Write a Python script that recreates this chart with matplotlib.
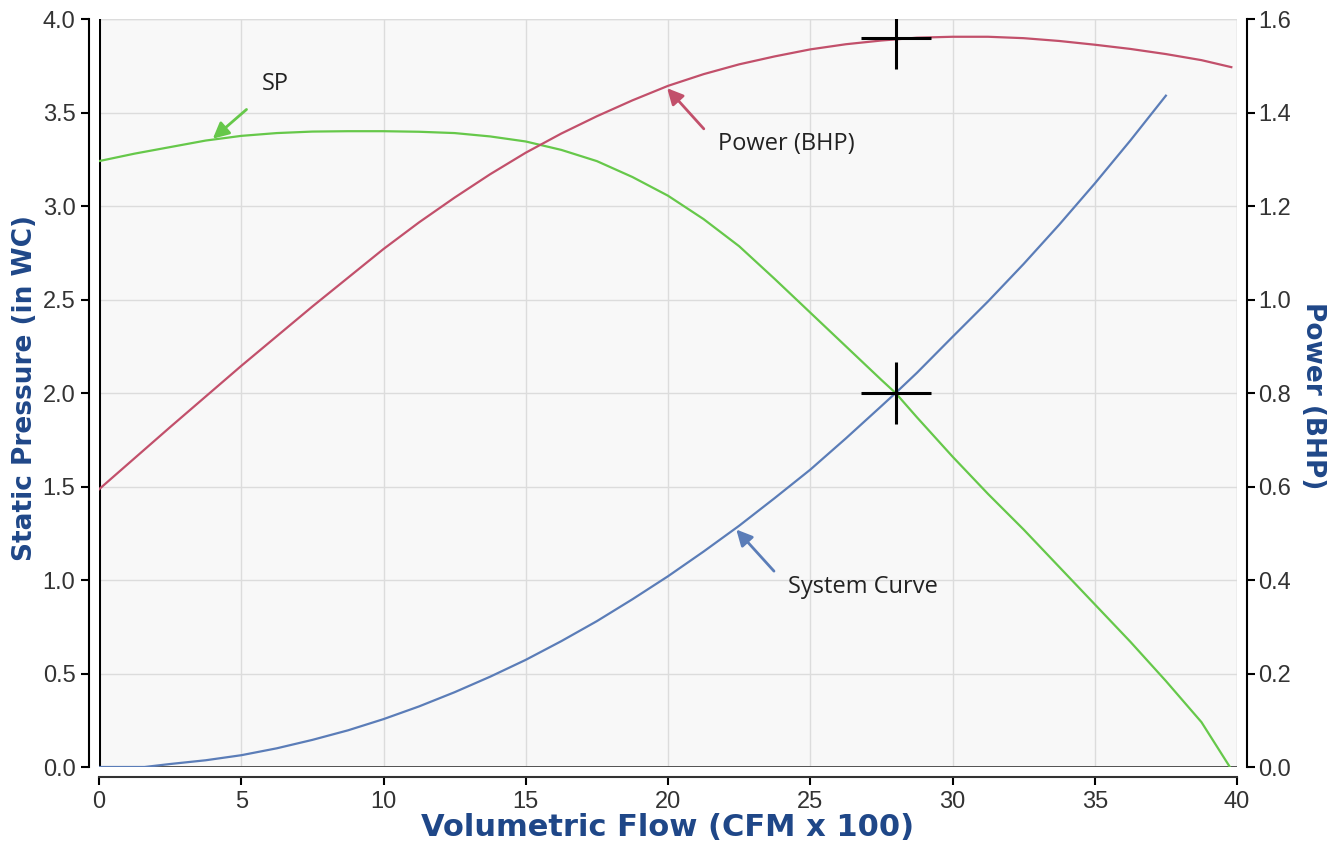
import numpy as np
import matplotlib.pyplot as plt

# ---- data ----
sp_flow = [0, 1.25, 2.5, 3.75, 5, 6.25, 7.5, 8.75, 10, 11.25, 12.5, 13.75, 15, 16.25, 17.5,
           18.75, 20, 21.25, 22.5, 23.75, 25, 26.25, 27.5, 28, 28.75, 30, 31.25, 32.5, 33.75,
           35, 36.25, 37.5, 38.75, 39.75]
sp_vals = [3.24, 3.28, 3.315, 3.35, 3.375, 3.39, 3.398, 3.40, 3.40, 3.397, 3.39, 3.372, 3.345,
           3.30, 3.24, 3.155, 3.055, 2.93, 2.785, 2.61, 2.43, 2.25, 2.07, 2.0, 1.87, 1.66, 1.46,
           1.27, 1.07, 0.87, 0.67, 0.46, 0.24, 0.0]

pw_flow = [0, 2.5, 5, 7.5, 10, 11.25, 12.5, 13.75, 15, 16.25, 17.5, 18.75, 20, 21.25, 22.5,
           23.75, 25, 26.25, 27.5, 28.75, 30, 31.25, 32.5, 33.75, 35, 36.25, 37.5, 38.75, 39.8]
pw_vals = [0.594, 0.727, 0.858, 0.985, 1.108, 1.165, 1.218, 1.268, 1.314, 1.355, 1.392, 1.426,
           1.457, 1.482, 1.503, 1.520, 1.535, 1.546, 1.554, 1.560, 1.562, 1.562, 1.559, 1.553,
           1.545, 1.536, 1.525, 1.512, 1.497]

sys_flow = [0, 1.6, 2.5, 3.75, 5, 6.25, 7.5, 8.75, 10, 11.25, 12.5, 13.75, 15, 16.25, 17.5,
            18.75, 20, 21.25, 22.5, 23.75, 25, 26.25, 27.5, 28, 28.75, 30, 31.25, 32.5, 33.75,
            35, 36.25, 37.5]
sys_vals = [0, 0, 0.016, 0.036, 0.063, 0.10, 0.145, 0.196, 0.256, 0.324, 0.40, 0.483, 0.573,
            0.673, 0.78, 0.897, 1.02, 1.152, 1.29, 1.438, 1.59, 1.757, 1.93, 2.0, 2.108, 2.30,
            2.49, 2.69, 2.90, 3.12, 3.35, 3.59]

op_flow, op_sp, op_power = 28, 2.0, 1.56

x_ticks = [0, 5, 10, 15, 20, 25, 30, 35, 40]
sp_ticks = [0.0, 0.5, 1.0, 1.5, 2.0, 2.5, 3.0, 3.5, 4.0]
pw_ticks = [0.0, 0.2, 0.4, 0.6, 0.8, 1.0, 1.2, 1.4, 1.6]

green = '#66c84a'
red = '#c2506b'
blue = '#5b7db8'
navy = '#1f4788'
tick_col = '#333333'

plt.rcParams['font.family'] = ['Liberation Sans', 'DejaVu Sans']

fig = plt.figure(figsize=(13.4, 8.47), dpi=100)
ax = fig.add_axes([99 / 1340, 1 - 767 / 847, (1237 - 99) / 1340, (767 - 19) / 847])
ax2 = ax.twinx()

ax.set_facecolor('#f8f8f8')
ax.set_xlim(0, 40)
ax.set_ylim(0, 4.0)
ax2.set_ylim(0, 1.6)

ax.set_xticks(x_ticks)
ax.set_yticks(sp_ticks)
ax.set_yticklabels([f'{v:.1f}' for v in sp_ticks])
ax2.set_yticks(pw_ticks)
ax2.set_yticklabels([f'{v:.1f}' for v in pw_ticks])
ax.grid(True, color='#dcdcdc', lw=1)
ax.set_axisbelow(True)

# spines offset from the plot frame
for a in (ax, ax2):
    for s in a.spines.values():
        s.set_visible(False)
ax.spines['left'].set_visible(True)
ax.spines['left'].set_position(('outward', 7))
ax.spines['left'].set_linewidth(1.5)
ax.spines['bottom'].set_visible(True)
ax.spines['bottom'].set_position(('outward', 7))
ax.spines['bottom'].set_linewidth(1.5)
ax.spines['bottom'].set_color('#333333')
ax2.spines['right'].set_visible(True)
ax2.spines['right'].set_position(('outward', 7))
ax2.spines['right'].set_linewidth(1.5)

ax.tick_params(axis='both', length=6, width=1.5, labelsize=17, labelcolor=tick_col, pad=4)
ax2.tick_params(axis='y', length=6, width=1.5, labelsize=17, labelcolor=tick_col, pad=2)

# plot frame
ax.axvline(0, color='black', lw=2.2, zorder=3)
ax.axhline(0, color='#444444', lw=2.0, zorder=3)
ax.axhline(4.0, color='#dcdcdc', lw=1, zorder=1)
ax.axvline(40, color='#dcdcdc', lw=1, zorder=1)

# curves
ax.plot(sp_flow, sp_vals, color=green, lw=1.6, zorder=4)
ax.plot(sys_flow, sys_vals, color=blue, lw=1.6, zorder=4)
ax2.plot(pw_flow, pw_vals, color=red, lw=1.6, zorder=4)

# operating point crosshairs
for a, yv in ((ax, op_sp), (ax2, op_power)):
    a.plot(op_flow, yv, marker='_', ms=50, mew=2.2, color='black', zorder=6)
    a.plot(op_flow, yv, marker='|', ms=45, mew=2.2, color='black', zorder=6)

# annotations
note_font = ['Open Sans', 'DejaVu Sans']
ax.annotate('SP', xy=(4.0, 3.36), xytext=(6.2, 3.65), fontsize=17,
            family=note_font, color='#222222', ha='center', va='center',
            arrowprops=dict(arrowstyle='-|>', color=green, lw=2, mutation_scale=24,
                            shrinkA=12, shrinkB=0))
ax.annotate('Power (BHP)', xy=(19.97, 3.63), xytext=(24.15, 3.33), fontsize=17,
            family=note_font, color='#222222', ha='center', va='center',
            arrowprops=dict(arrowstyle='-|>', color=red, lw=2, mutation_scale=24,
                            shrinkA=12, shrinkB=0, relpos=(0.0, 0.5)))
ax.annotate('System Curve', xy=(22.4, 1.27), xytext=(26.85, 0.965), fontsize=17,
            family=note_font, color='#222222', ha='center', va='center',
            arrowprops=dict(arrowstyle='-|>', color=blue, lw=2, mutation_scale=24,
                            shrinkA=12, shrinkB=0, relpos=(0.0, 0.5)))

label_font = ['DejaVu Sans']
ax.set_xlabel('Volumetric Flow (CFM x 100)', fontsize=22, fontweight='bold', color=navy,
              family=label_font, labelpad=0)
ax.set_ylabel('Static Pressure (in WC)', fontsize=19, fontweight='bold', color=navy,
              family=label_font, va='center', ha='center')
ax.yaxis.set_label_coords(-0.065, 0.507)
ax2.set_ylabel('Power (BHP)', fontsize=19, fontweight='bold', color=navy, family=label_font,
               rotation=270, va='center', ha='center')
ax2.yaxis.set_label_coords(1.067, 0.497)

fig.savefig('out.png', dpi=100)
